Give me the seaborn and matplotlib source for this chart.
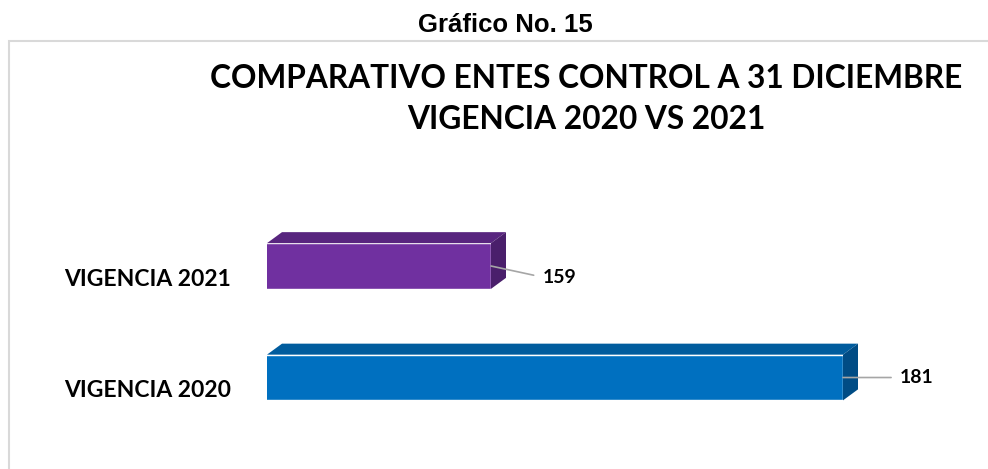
import pandas as pd
import matplotlib.pyplot as plt
import matplotlib.transforms as mtransforms
import seaborn as sns
from matplotlib.patches import Polygon, Rectangle

# Data
categorias = ["VIGENCIA 2021", "VIGENCIA 2020"]
entes = [159, 181]
colores = ["#7030A0", "#0070C0"]
tapas = ["#58257F", "#005C9E"]
lados = ["#4A1F6B", "#004C85"]

df = pd.DataFrame({"vigencia": categorias, "entes": entes})

sns.set_theme(style="white")
plt.rcParams["font.family"] = ["Lato", "DejaVu Sans"]
plt.rcParams["text.color"] = "black"
plt.rcParams["ytick.color"] = "black"

fig = plt.figure(figsize=(9.88, 4.69), dpi=100)

# chart area border (light gray box, open to the right/bottom)
fig.patches.append(Rectangle((9 / 988, -0.05), 1.1, 0.05 + 1 - 41 / 469,
                             transform=fig.transFigure, fill=False,
                             edgecolor="#D9D9D9", linewidth=1.5))

ax = fig.add_axes([267 / 988, 0.0762, 656 / 988, 0.4755])
sns.barplot(data=df, y="vigencia", x="entes", hue="vigencia",
            palette=colores, width=0.41, legend=False, saturation=1, ax=ax)
ax.set_xlim(145, 186)
ax.set_ylim(1.5, -0.5)
sns.despine(ax=ax, left=True, bottom=True)
ax.set_xticks([])
ax.set_xlabel("")
ax.set_ylabel("")
ax.tick_params(axis="y", length=0, pad=26)

# tick labels sit a little below the bar centre, like the Excel 3D layout
off = mtransforms.ScaledTranslation(0, -11 / 100, fig.dpi_scale_trans)
for lbl in ax.get_yticklabels():
    lbl.set_fontsize(16.5)
    lbl.set_fontweight("bold")
    lbl.set_color("black")
    lbl.set_transform(lbl.get_transform() + off)

# 3D faces on top of each bar
dx, dy = 15, 11
inv = ax.transData.inverted()
xmin = ax.get_xlim()[0]
for i, p in enumerate(ax.patches):
    x0 = max(p.get_x(), xmin)
    x1 = p.get_x() + p.get_width()
    ytop = p.get_y()
    ybot = p.get_y() + p.get_height()
    a = ax.transData.transform([(x0, ytop), (x1, ytop), (x1, ybot)])
    top = [a[0], a[1], a[1] + [dx, dy], a[0] + [dx, dy]]
    side = [a[1], a[2], a[2] + [dx, dy], a[1] + [dx, dy]]
    ax.add_patch(Polygon(inv.transform(top), closed=True, facecolor=tapas[i],
                         edgecolor="none", clip_on=False))
    ax.add_patch(Polygon(inv.transform(side), closed=True, facecolor=lados[i],
                         edgecolor="none", clip_on=False))

# value labels with leader lines
offsets = [(37, -8), (41, 0)]
for i, v in enumerate(entes):
    ax.annotate(str(v), xy=(v, i), xytext=offsets[i], textcoords="offset points",
                ha="left", va="center", fontsize=14, fontweight="bold", color="black",
                annotation_clip=False,
                arrowprops=dict(arrowstyle="-", color="#A6A6A6", lw=1.2,
                                shrinkA=4, shrinkB=0, relpos=(0, 0.5)))

# titles
fig.text(505 / 988, 1 - 32 / 469, "Gráfico No. 15", ha="center", va="baseline",
         fontsize=18.5, fontweight="bold", family=["Liberation Sans", "DejaVu Sans"])
fig.text(586 / 988, 1 - 88 / 469, "COMPARATIVO ENTES CONTROL A 31 DICIEMBRE",
         ha="center", va="baseline", fontsize=22.8, fontweight="bold")
fig.text(586 / 988, 1 - 129 / 469, "VIGENCIA 2020 VS 2021",
         ha="center", va="baseline", fontsize=22.8, fontweight="bold")

fig.savefig("out.png", dpi=100)
